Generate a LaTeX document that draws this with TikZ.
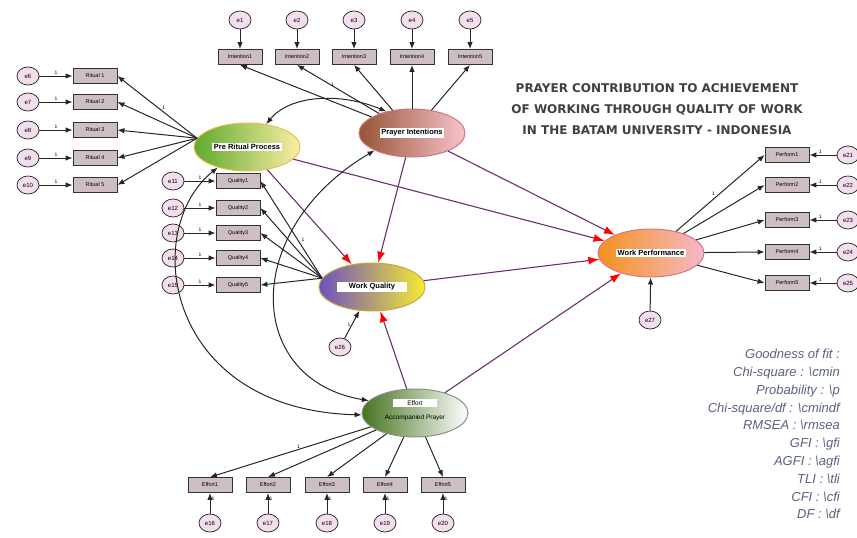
\documentclass[tikz,border=0pt]{standalone}
\usepackage{fontspec}
\setmainfont{Liberation Sans}
\newfontfamily\titlefont{DejaVu Sans}
\usetikzlibrary{shapes.geometric,arrows.meta,positioning}

\definecolor{boxfill}{RGB}{205,190,196}
\definecolor{errfill}{RGB}{244,222,238}
\definecolor{fittext}{RGB}{88,98,128}
\definecolor{pathline}{RGB}{105,50,110}

\tikzset{
  ind/.style={draw=black!80, line width=0.8pt, fill=boxfill, minimum width=44pt, minimum height=15pt, inner sep=0pt, font=\fontsize{5.5}{6}\selectfont},
  err/.style={ellipse, draw=black!80, line width=0.8pt, fill=errfill, minimum width=22pt, minimum height=18pt, inner sep=0pt, font=\fontsize{6}{7}\selectfont},
  lat/.style={ellipse, line width=1pt, minimum width=106pt, minimum height=48pt, inner sep=0pt},
  tag/.style={fill=white, inner sep=1.5pt, font=\bfseries\fontsize{7.5}{8}\selectfont},
  load/.style={draw=black!85, line width=1pt, -{Latex[length=7pt,width=5.5pt]}},
  effect/.style={draw=pathline, line width=1.1pt, -{Latex[color=red,length=11pt,width=8pt]}},
  cov/.style={draw=black!85, line width=1pt, {Latex[length=7pt,width=5.5pt]}-{Latex[length=7pt,width=5.5pt]}},
  one/.style={font=\fontsize{5}{5}\selectfont, inner sep=1pt},
}

\begin{document}
\begin{tikzpicture}[x=1pt,y=-1pt]
  \useasboundingbox (0,0) rectangle (857,538);
  \clip (0,0) rectangle (857,538);

  % latent variables
  \node[lat, left color={rgb,255:red,95;green,170;blue,45}, right color={rgb,255:red,250;green,238;blue,165}, draw={rgb,255:red,230;green,190;blue,80}] (pre) at (247,147) {};
  \node[lat, left color={rgb,255:red,150;green,85;blue,55}, right color={rgb,255:red,250;green,195;blue,205}, draw={rgb,255:red,200;green,120;blue,130}] (pi) at (412,133) {};
  \node[lat, left color={rgb,255:red,110;green,80;blue,190}, right color={rgb,255:red,245;green,235;blue,50}, draw={rgb,255:red,200;green,170;blue,60}] (wq) at (372,287) {};
  \node[lat, left color={rgb,255:red,245;green,145;blue,30}, right color={rgb,255:red,245;green,185;blue,200}, draw={rgb,255:red,210;green,120;blue,140}] (wp) at (651,253) {};
  \node[lat, left color={rgb,255:red,70;green,115;blue,30}, right color=white, draw=black!45] (ef) at (415,413) {};

  \node[tag] (preT) at (pre) {Pre Ritual Process};
  \node[tag] (piT) at (pi) {Prayer Intentions};
  \node[tag, inner xsep=12pt] (wqT) at (wq) {Work Quality};
  \node[tag] (wpT) at (wp) {Work Performance};
  \node[tag, inner xsep=14pt, font=\fontsize{6.5}{7}\selectfont] (efT) at (415,403) {Effort};
  \node[font=\fontsize{6.5}{7}\selectfont, inner sep=1pt] (efT2) at (415,418) {Accompanied Prayer};

  % Prayer Intentions indicators
  \foreach \i/\x in {1/240,2/297,3/354,4/412,5/470}{
    \node[ind] (int\i) at (\x,57) {Intention\i};
    \node[err] (e\i) at (\x,20) {e\i};
    \draw[load] (e\i) -- (int\i);
    \draw[load] (pi) -- (int\i.south);
  }
  \path (pi) -- (int2.south) node[one, pos=0.6, right] (o2) {1};

  % Pre Ritual Process indicators
  \foreach \i/\n/\y in {1/6/76,2/7/102,3/8/130,4/9/158,5/10/185}{
    \node[ind] (rit\i) at (95,\y) {Ritual \i};
    \node[err] (e\n) at (28,\y) {e\n};
    \draw[load] (e\n) -- node[one, above] (o\n) {1} (rit\i);
    \draw[load] (pre.170) -- (rit\i.east);
  }
  \path (pre.170) -- (rit1.east) node[one, pos=0.45, above right] (p1) {1};

  % Work Quality indicators
  \foreach \i/\n/\y in {1/11/181,2/12/208,3/13/233,4/14/258,5/15/285}{
    \node[ind] (qua\i) at (238,\y) {Quality\i};
    \node[err] (e\n) at (173,\y) {e\n};
    \draw[load] (e\n) -- node[one, above] (o\n) {1} (qua\i);
    \draw[load] (wq.170) -- (qua\i.east);
  }
  \path (wq.170) -- (qua1.east) node[one, pos=0.4, right=3pt] (p11) {1};

  % Work Performance indicators
  \foreach \i/\n/\y in {1/21/155,2/22/185,3/23/220,4/24/252,5/25/283}{
    \node[ind] (per\i) at (787,\y) {Perform\i};
    \node[err] (e\n) at (848,\y) {e\n};
    \draw[load] (e\n) -- node[one, above, pos=0.6] (o\n) {1} (per\i);
    \draw[load] (wp) -- (per\i.west);
  }
  \path (wp) -- (per1.west) node[one, pos=0.45, above left] (p21) {1};

  % Effort Accompanied Prayer indicators
  \foreach \i/\n/\x in {1/16/210,2/17/268,3/18/327,4/19/385,5/20/443}{
    \node[ind] (eff\i) at (\x,485) {Effort\i};
    \node[err] (e\n) at (\x,523) {e\n};
    \draw[load] (e\n) -- node[one, right, pos=0.7] (o\n) {1} (eff\i);
    \draw[load] (ef) -- (eff\i.north);
  }
  \path (ef) -- (eff1.north) node[one, pos=0.45, above] (p16) {1};

  % residuals
  \node[err] (e26) at (340,347) {e26};
  \node[err] (e27) at (650,320) {e27};
  \draw[load] (e26) -- node[one, left] (o26) {1} (wq);
  \draw[load] (e27) -- (wp);

  % structural paths
  \draw[effect] (pre) -- (wq);
  \draw[effect] (pi) -- (wq);
  \draw[effect] (pre) -- (wp);
  \draw[effect] (pi) -- (wp);
  \draw[effect] (wq) -- (wp);
  \draw[effect] (ef) -- (wq);
  \draw[effect] (ef) -- (wp);

  % covariances
  \draw[cov] (pre.50) .. controls (290,95) and (340,92) .. (pi.140);
  \draw[cov] (pi.205) .. controls (240,230) and (245,380) .. (ef.165);
  \draw[cov] (pre.215) .. controls (140,230) and (165,410) .. (ef.182);

  % title and fit
  \node[font=\titlefont\bfseries\fontsize{12}{21}\selectfont, text=black!75, align=center] (title) at (657,109) {PRAYER CONTRIBUTION TO ACHIEVEMENT\\OF WORKING THROUGH QUALITY OF WORK\\IN THE BATAM UNIVERSITY - INDONESIA};
  \node[anchor=north east, align=right, text=fittext, font=\itshape\fontsize{13}{17.8}\selectfont, inner sep=0pt] (fit) at (840,349) {Goodness of fit :\\Chi-square : \textbackslash cmin\\Probability : \textbackslash p\\Chi-square/df : \textbackslash cmindf\\RMSEA : \textbackslash rmsea\\GFI : \textbackslash gfi\\AGFI : \textbackslash agfi\\TLI : \textbackslash tli\\CFI : \textbackslash cfi\\DF : \textbackslash df};
\end{tikzpicture}
\end{document}
